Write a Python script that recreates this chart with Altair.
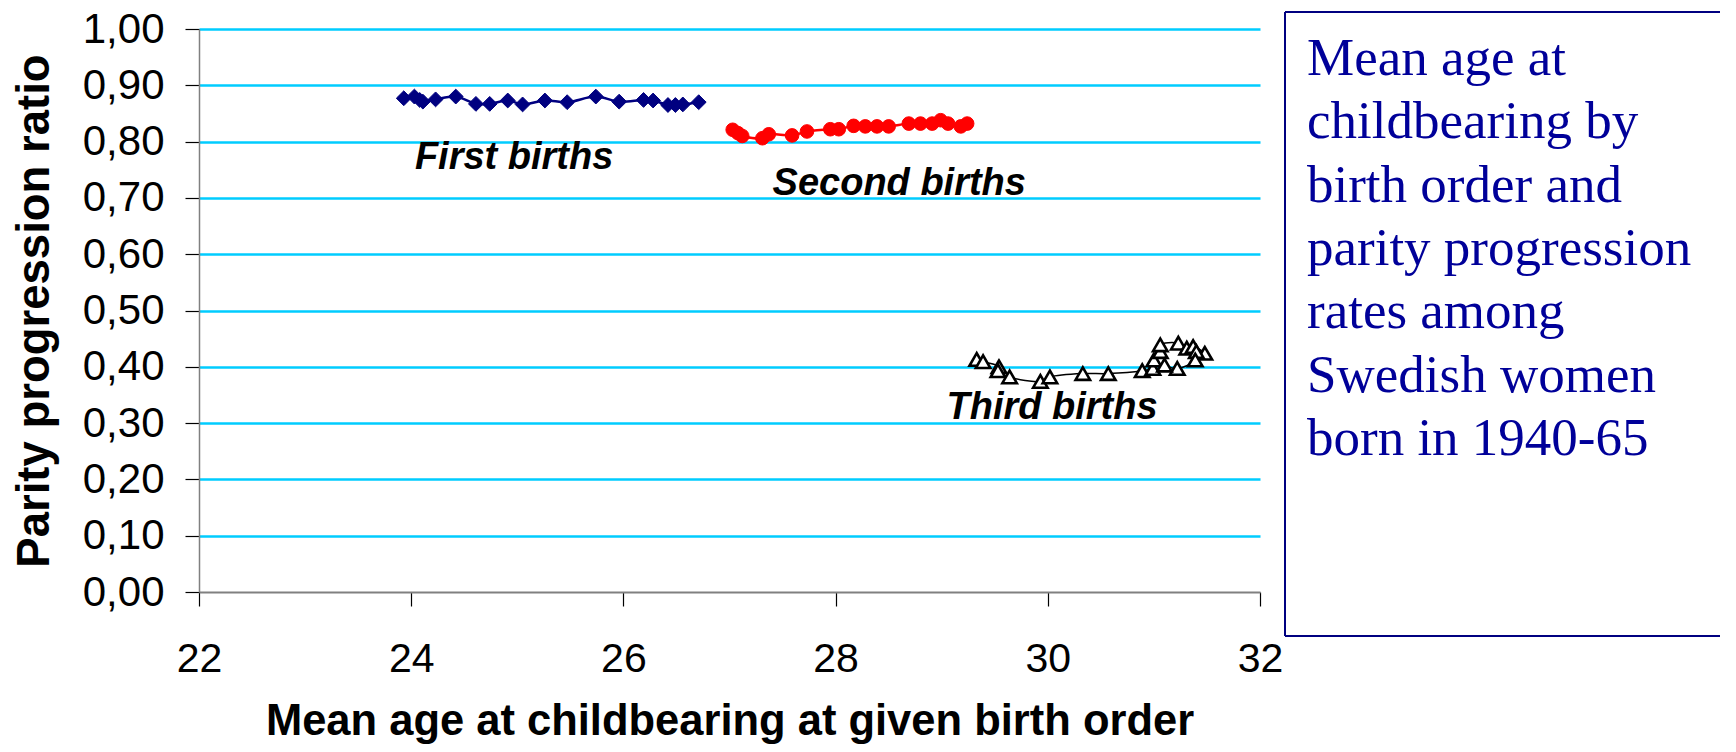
import altair as alt
import pandas as pd

# ---- data ----
first_age = [23.93, 24.03, 24.08, 24.11, 24.23, 24.42, 24.61, 24.74, 24.91, 25.05,
             25.26, 25.47, 25.74, 25.96, 26.19, 26.28, 26.42, 26.49, 26.56, 26.71]
first_ppr = [0.877, 0.880, 0.874, 0.871, 0.875, 0.880, 0.867, 0.867, 0.873, 0.866,
             0.873, 0.870, 0.880, 0.871, 0.874, 0.873, 0.865, 0.865, 0.866, 0.870]

second_age = [27.03, 27.08, 27.12, 27.31, 27.37, 27.59, 27.73, 27.95, 28.03, 28.17,
              28.28, 28.39, 28.50, 28.69, 28.80, 28.91, 28.99, 29.06, 29.18, 29.24]
second_ppr = [0.821, 0.815, 0.810, 0.806, 0.813, 0.811, 0.818, 0.822, 0.822, 0.828,
              0.827, 0.827, 0.827, 0.832, 0.832, 0.832, 0.838, 0.832, 0.827, 0.832]

third_age = [29.33, 29.39, 29.54, 29.53, 29.64, 29.93, 30.02, 30.33, 30.57, 30.89,
             30.99, 31.00, 31.06, 31.06, 31.23, 31.31, 31.37, 31.48, 31.40, 31.39,
             31.22, 31.10]
third_ppr = [0.413, 0.409, 0.400, 0.393, 0.382, 0.374, 0.382, 0.388, 0.388, 0.393,
             0.397, 0.412, 0.427, 0.439, 0.442, 0.433, 0.436, 0.424, 0.427, 0.412,
             0.397, 0.403]

label_text = ["First births", "Second births", "Third births"]
label_age = [24.97, 28.60, 30.04]
label_ppr = [0.751, 0.705, 0.308]

x_ticks = [22, 24, 26, 28, 30, 32]
y_ticks = [0.0, 0.1, 0.2, 0.3, 0.4, 0.5, 0.6, 0.7, 0.8, 0.9, 1.0]

box_lines = ["Mean age at", "childbearing by", "birth order and",
             "parity progression", "rates among", "Swedish women",
             "born in 1940-65"]

x_title = "Mean age at childbearing at given birth order"
y_title = "Parity progression ratio"

# ---- tables ----
def series_df(name, ages, pprs):
    return pd.DataFrame({"series": name, "idx": list(range(len(ages))),
                         "age": ages, "ppr": pprs})

df = pd.concat([series_df("First", first_age, first_ppr),
                series_df("Second", second_age, second_ppr),
                series_df("Third", third_age, third_ppr)], ignore_index=True)
labels_df = pd.DataFrame({"label": label_text, "age": label_age, "ppr": label_ppr})

FONT = "Liberation Sans"

X = alt.X("age:Q",
          scale=alt.Scale(domain=[22, 32], nice=False, zero=False),
          axis=alt.Axis(values=x_ticks, format="d", title=x_title, grid=False,
                        labelFont=FONT, labelFontSize=41, labelColor="black",
                        labelPadding=33, labelFlush=False, labelOverlap=False,
                        tickSize=14, tickColor="black", tickWidth=1.2,
                        domainColor="#808080", domainWidth=2,
                        titleFont=FONT, titleFontSize=43.5, titleFontWeight="bold",
                        titleColor="black", titlePadding=21))
Y = alt.Y("ppr:Q",
          scale=alt.Scale(domain=[0, 1], nice=False, zero=True),
          axis=alt.Axis(values=y_ticks,
                        labelExpr="replace(format(datum.value, '.2f'), '.', ',')",
                        title=y_title, grid=True,
                        gridColor=alt.condition("datum.value === 0",
                                                alt.value("transparent"),
                                                alt.value("#00CCFF")),
                        gridWidth=2.5,
                        labelFont=FONT, labelFontSize=42, labelColor="black",
                        labelPadding=21, labelFlush=False, labelOverlap=False,
                        tickSize=14, tickColor="black", tickWidth=1.2,
                        domainColor="#808080", domainWidth=1.5,
                        titleFont=FONT, titleFontSize=45.5, titleFontWeight="bold",
                        titleColor="black", titlePadding=24))

base = alt.Chart(df)

def series_layers(name, color, line_w, shape, size, fill, stroke, stroke_w):
    src = base.transform_filter(alt.datum.series == name)
    line = src.mark_line(color=color, strokeWidth=line_w,
                         interpolate="catmull-rom").encode(x=X, y=Y, order="idx:Q")
    pts = src.mark_point(shape=shape, size=size, filled=True, fill=fill,
                         stroke=stroke, strokeWidth=stroke_w, opacity=1).encode(x=X, y=Y)
    return [line, pts]

layers = []
layers += series_layers("First", "#000080", 2.5, "diamond", 220, "#000080", "#000080", 1)
layers += series_layers("Second", "#FF0000", 2.5, "circle", 185, "#FF0000", "#FF0000", 1)
layers += series_layers("Third", "black", 1.5, "triangle-up", 210, "white", "black", 2.6)

labels = alt.Chart(labels_df).mark_text(font=FONT, fontSize=38, fontWeight="bold",
                                        fontStyle="italic", color="black",
                                        align="center", baseline="alphabetic").encode(
    x=X, y=Y, text="label:N")

one = alt.Data(values=[{"k": 1}])
BOX = "#000080"
box_top = alt.Chart(one).mark_rule(color=BOX, strokeWidth=2).encode(
    x=alt.value(1086), x2=alt.value(1540), y=alt.value(-17))
box_left = alt.Chart(one).mark_rule(color=BOX, strokeWidth=2).encode(
    x=alt.value(1086), y=alt.value(-17), y2=alt.value(607))
box_bottom = alt.Chart(one).mark_rule(color=BOX, strokeWidth=2).encode(
    x=alt.value(1086), x2=alt.value(1540), y=alt.value(607))
box_text = alt.Chart(one).mark_text(text=box_lines, font="Liberation Serif",
                                    fontSize=53, color="#000099", align="left",
                                    baseline="alphabetic", lineHeight=63.3).encode(
    x=alt.value(1108), y=alt.value(46))

chart = alt.layer(*layers, labels, box_top, box_left, box_bottom, box_text).properties(
    width=1061, height=563,
    padding={"left": 191, "top": 21, "right": 460, "bottom": 152},
    autosize=alt.AutoSizeParams(type="none"),
).configure_view(stroke=None)

chart.save("out.html", embed_options={"renderer": "svg", "actions": False})
